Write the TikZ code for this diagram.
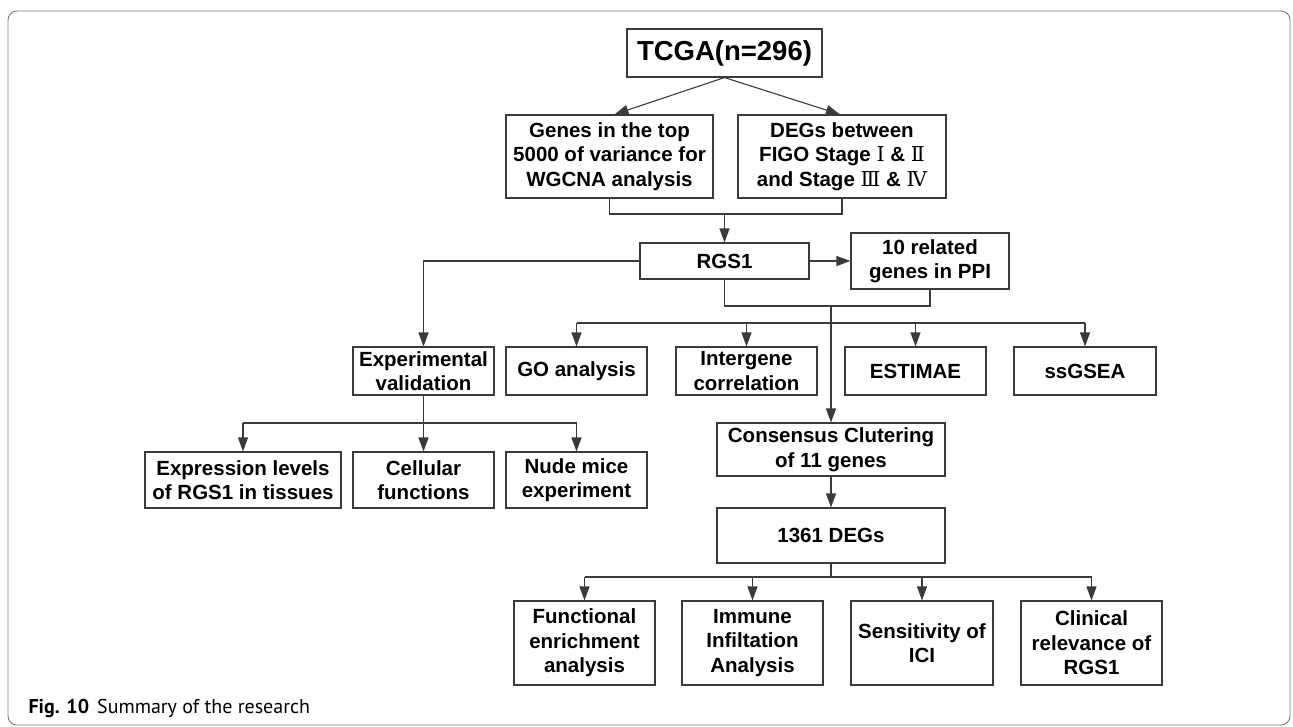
\documentclass[tikz,border=0pt]{standalone}
\usepackage{fontspec}
\setmainfont{Liberation Sans}
\newfontfamily\capfont{PT Sans}
\newfontfamily\numfont{DejaVu Serif}
\usepackage{tikz}
\usetikzlibrary{arrows.meta, positioning, calc}
\definecolor{boxline}{HTML}{3A3A3A}
\definecolor{frameline}{HTML}{7A7A7A}
\newcommand{\rn}[1]{{\numfont\mdseries #1}}

\begin{document}
\begin{tikzpicture}[
    x=1pt, y=-1pt,
    box/.style={draw=boxline, line width=1.1pt, inner sep=0pt, align=center,
                font=\fontsize{20.5pt}{24.5pt}\selectfont\bfseries},
    link/.style={draw=boxline, line width=1.1pt},
    arr/.style={link, -{Triangle[length=14pt, width=10pt]}},
]
    \useasboundingbox (0,0) rectangle (1293,726);
    \draw[frameline, line width=0.9pt, rounded corners=9pt] (8,11) rectangle (1290,725);

    % top part
    \node[box, minimum width=195pt, minimum height=48pt,
          font=\fontsize{27.5pt}{32pt}\selectfont\bfseries] (tcga) at (724.5,53) {TCGA(n=296)};
    \node[box, minimum width=207pt, minimum height=83pt] (genes) at (609.5,156.5)
        {Genes in the top\\5000 of variance for\\WGCNA analysis};
    \node[box, minimum width=208pt, minimum height=83pt] (degs) at (842,156.5)
        {DEGs between\\FIGO Stage \rn{Ⅰ} \& \rn{Ⅱ}\\and Stage \rn{Ⅲ} \& \rn{Ⅳ}};
    \node[box, minimum width=169pt, minimum height=36pt] (rgs) at (724.5,261) {RGS1};
    \node[box, minimum width=158pt, minimum height=56pt] (ppi) at (930,261)
        {10 related\\genes in PPI};

    % second row
    \node[box, minimum width=141pt, minimum height=48pt] (expval) at (423.5,371)
        {Experimental\\validation};
    \node[box, minimum width=141pt, minimum height=48pt] (goan) at (576.5,371) {GO analysis};
    \node[box, minimum width=141pt, minimum height=48pt] (inter) at (746.5,371)
        {Intergene\\correlation};
    \node[box, minimum width=141pt, minimum height=48pt] (estim) at (915.5,371) {ESTIMAE};
    \node[box, minimum width=142pt, minimum height=48pt] (ssgsea) at (1085,371) {ssGSEA};

    % validation
    \node[box, minimum width=196pt, minimum height=56pt] (express) at (243,480)
        {Expression levels\\of RGS1 in tissues};
    \node[box, minimum width=141pt, minimum height=56pt] (cellular) at (423.5,480)
        {Cellular\\functions};
    \node[box, minimum width=141pt, minimum height=56pt] (nude) at (576.5,480)
        {Nude mice\\experiment};

    % clustering
    \node[box, minimum width=228pt, minimum height=53pt] (consensus) at (831,449.5)
        {Consensus Clutering\\of 11 genes};
    \node[box, minimum width=228pt, minimum height=55pt] (degsnum) at (831,535.5) {1361 DEGs};

    % bottom row
    \node[box, minimum width=141pt, minimum height=84pt] (func) at (584.5,643)
        {Functional\\enrichment\\analysis};
    \node[box, minimum width=141pt, minimum height=84pt] (immune) at (752.5,643)
        {Immune\\Infiltation\\Analysis};
    \node[box, minimum width=142pt, minimum height=84pt] (sensit) at (922,643)
        {Sensitivity of\\ICI};
    \node[box, minimum width=141pt, minimum height=84pt] (clinical) at (1091.5,643)
        {Clinical\\relevance of\\RGS1};

    \node[anchor=west, font=\capfont\fontsize{20pt}{22pt}\selectfont] (cap) at (25,708)
        {\textbf{Fig. 10}\hspace{8pt}Summary of the research};

    % junctions
    \coordinate (jtop) at (724.5,214);
    \coordinate (jmid) at (831,306);
    \coordinate (jrow) at (831,323);
    \coordinate (jval) at (423.5,423);
    \coordinate (jbot) at (831,577);

    \draw[arr] (tcga.south) -- ([xshift=5pt]genes.north);
    \draw[arr] (tcga.south) -- ([xshift=-2pt]degs.north);
    \draw[link] (genes.south) |- (jtop) -| (degs.south);
    \draw[arr] (jtop) -- (rgs.north);
    \draw[arr] (rgs.east) -- (ppi.west);
    \draw[arr] (rgs.west) -| (expval.north);
    \draw[link] (rgs.south) |- (jmid) -| (ppi.south);
    \draw[arr] (jmid) -- (consensus.north);

    \draw[link] (goan.north |- jrow) -- (ssgsea.north |- jrow);
    \foreach \n in {goan, inter, estim, ssgsea}
        \draw[arr] (\n.north |- jrow) -- (\n.north);

    \draw[link] (expval.south) -- (jval);
    \draw[link] (express.north |- jval) -- (nude.north |- jval);
    \foreach \n in {express, cellular, nude}
        \draw[arr] (\n.north |- jval) -- (\n.north);

    \draw[arr] (consensus.south) -- (degsnum.north);
    \draw[link] (degsnum.south) -- (jbot);
    \draw[link] (func.north |- jbot) -- (clinical.north |- jbot);
    \foreach \n in {func, immune, sensit, clinical}
        \draw[arr] (\n.north |- jbot) -- (\n.north);
\end{tikzpicture}
\end{document}
